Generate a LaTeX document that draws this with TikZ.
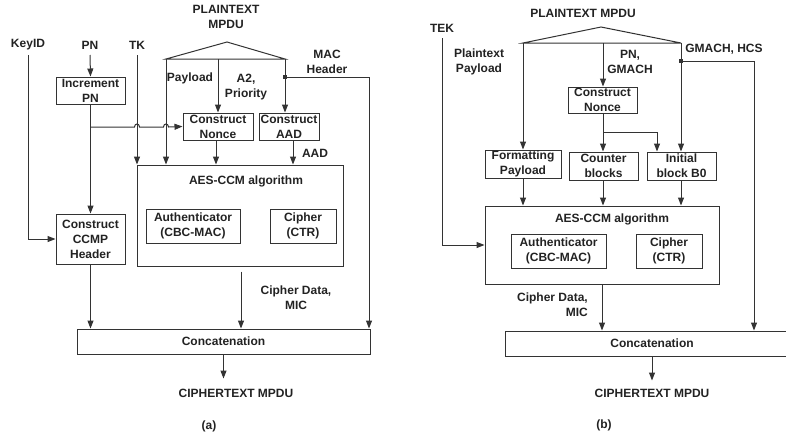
\documentclass[tikz,border=0pt]{standalone}
\usepackage{fontspec}
\setmainfont{Liberation Sans}
\usetikzlibrary{arrows.meta}
\definecolor{ln}{HTML}{333333}
\definecolor{tx}{HTML}{222222}
\tikzset{
  lbl/.style={font=\bfseries\fontsize{12}{15}\selectfont, text=tx, align=center, inner sep=0pt},
  blk/.style={draw=ln, line width=1pt, font=\bfseries\fontsize{12}{15}\selectfont, text=tx, align=center, inner sep=0pt},
  wire/.style={draw=ln, line width=1pt},
  arr/.style={wire, -{Triangle[length=8pt,width=6pt]}},
  jdot/.style={fill=ln, rectangle, minimum size=3.5pt, inner sep=0pt}
}
\begin{document}
\begin{tikzpicture}[x=1pt,y=-1pt]
\useasboundingbox (0,0) rectangle (786,437);
% ================= (a) =================
\node[lbl] (ptA) at (226,17) {PLAINTEXT\\MPDU};
\node[lbl] (keyid) at (28,45) {KeyID};
\node[lbl] (pn) at (90,45) {PN};
\node[lbl] (tk) at (137,45) {TK};
\node[lbl] (payA) at (190,78) {Payload};
\node[lbl] (a2) at (246,87) {A2,\\Priority};
\node[lbl] (mach) at (327,62) {MAC\\Header};
\node[lbl] (aadl) at (315,153) {AAD};
\node[lbl] (cdA) at (296,298) {Cipher Data,\\MIC};
\node[lbl] (ctA) at (236,393) {CIPHERTEXT MPDU};
\node[lbl] (capA) at (209,426) {(a)};

\node[blk, minimum width=69pt, minimum height=27pt] (incpn) at (90.5,90.5) {Increment\\PN};
\node[blk, minimum width=69pt, minimum height=50pt] (ccmp) at (90.5,239) {Construct\\CCMP\\Header};
\node[blk, minimum width=70pt, minimum height=27pt] (nonceA) at (218,126.5) {Construct\\Nonce};
\node[blk, minimum width=60pt, minimum height=27pt] (aad) at (289,126.5) {Construct\\AAD};
\node[blk, minimum width=206pt, minimum height=101pt] (aesA) at (240,215.5) {};
\node[lbl] (aestA) at (246,181) {AES-CCM algorithm};
\node[blk, minimum width=94pt, minimum height=34pt] (authA) at (193,226) {Authenticator\\(CBC-MAC)};
\node[blk, minimum width=66pt, minimum height=34pt] (ciphA) at (303,226) {Cipher\\(CTR)};
\node[blk, minimum width=293pt, minimum height=25pt] (concA) at (223.5,341.5) {Concatenation};

\coordinate (apexA) at (227,42);
\coordinate (blA) at (166,59);
\coordinate (brA) at (285,59);
\coordinate (kA) at (28,55);
\coordinate (pnA) at (90,55);
\coordinate (tkA) at (137,55);
\coordinate (brnA) at (90,127);
\node[jdot] (dotA) at (285,77) {};
\coordinate (macR) at (369,77);

\draw[wire, line join=miter] (blA) -- (apexA) -- (brA) -- cycle;
\draw[arr] (kA) |- (ccmp.west);
\draw[arr] (pnA) -- (incpn.north);
\draw[arr] (tkA) -- (tkA |- aesA.north);
\draw[arr] (blA) -- (blA |- aesA.north);
\draw[arr] (blA -| nonceA.north) -- (nonceA.north);
\draw[arr] (brA) -- (brA |- aad.north);
\draw[wire] (dotA.center) -- (macR);
\draw[arr] (macR) -- (macR |- concA.north);
\draw[arr] (incpn.south) -- (ccmp.north);
\draw[arr] (brnA) -- (134.5,127) .. controls (134.5,123) and (139.5,123) .. (139.5,127)
  -- (163.5,127) .. controls (163.5,123) and (168.5,123) .. (168.5,127) -- (nonceA.west);
\draw[arr] ([xshift=-2pt]nonceA.south) -- ([xshift=-2pt]nonceA.south |- aesA.north);
\draw[arr] ([xshift=4pt]aad.south) -- ([xshift=4pt]aad.south |- aesA.north);
\draw[arr] ([xshift=1pt,yshift=-5pt]aesA.south) -- ([xshift=1pt]aesA.south |- concA.north);
\draw[arr] (ccmp.south) -- (ccmp.south |- concA.north);
\draw[arr] (concA.south) -- ++(0,24);

% ================= (b) =================
\node[lbl] (ptB) at (583,13) {PLAINTEXT MPDU};
\node[lbl] (tek) at (442,28) {TEK};
\node[lbl] (ppB) at (479,62) {Plaintext\\Payload};
\node[lbl] (pngm) at (630,62) {PN,\\GMACH};
\node[lbl] (gmhcs) at (724,49) {GMACH, HCS};
\node[lbl, align=right, anchor=east] (cdB) at (588,304.5) {Cipher Data,\\MIC};
\node[lbl] (ctB) at (652,393) {CIPHERTEXT MPDU};
\node[lbl] (capB) at (604,425) {(b)};

\node[blk, minimum width=69pt, minimum height=26pt] (nonceB) at (602.5,100) {Construct\\Nonce};
\node[blk, minimum width=76pt, minimum height=28pt] (fmt) at (523,164) {Formatting\\Payload};
\node[blk, minimum width=69pt, minimum height=28pt] (cnt) at (603.5,166) {Counter\\blocks};
\node[blk, minimum width=69pt, minimum height=28pt] (initB) at (681.5,166) {Initial\\block B0};
\node[blk, minimum width=234pt, minimum height=78pt] (aesB) at (602,245) {};
\node[lbl] (aestB) at (612,219) {AES-CCM algorithm};
\node[blk, minimum width=95pt, minimum height=34pt] (authB) at (558.5,251) {Authenticator\\(CBC-MAC)};
\node[blk, minimum width=66pt, minimum height=34pt] (ciphB) at (669,251) {Cipher\\(CTR)};
\node[blk, minimum width=294pt, minimum height=25pt] (concB) at (652,343.5) {Concatenation};

\coordinate (apexB) at (601,27);
\coordinate (blB) at (523,43);
\coordinate (brB) at (681,43);
\coordinate (midB) at (603,43);
\coordinate (tkB) at (442,38);
\node[jdot] (dotB) at (681,61) {};
\coordinate (gmR) at (754,61);
\coordinate (brnB) at (603,132);
\coordinate (brnB2) at (657,132);

\draw[wire, line join=miter] (blB) -- (apexB) -- (brB) -- cycle;
\draw[arr] (tkB) |- (aesB.west);
\draw[arr] (blB) -- (fmt.north);
\draw[arr] (midB) -- (midB |- nonceB.north);
\draw[arr] (brB) -- (brB |- initB.north);
\draw[wire] (dotB.center) -- (gmR);
\draw[arr] (gmR) -- (gmR |- concB.north);
\draw[arr] (midB |- nonceB.south) -- (midB |- cnt.north);
\draw[arr] (brnB) -- (brnB2) -- (brnB2 |- initB.north);
\draw[arr] (fmt.south) -- (fmt.south |- aesB.north);
\draw[arr] (midB |- cnt.south) -- (midB |- aesB.north);
\draw[arr] (brB |- initB.south) -- (brB |- aesB.north);
\draw[arr] (aesB.south) -- (aesB.south |- concB.north);
\draw[arr] (concB.south) -- ++(0,24);
\end{tikzpicture}
\end{document}
